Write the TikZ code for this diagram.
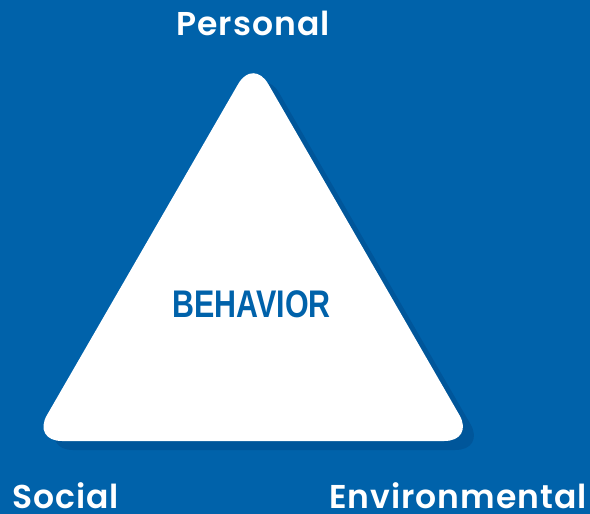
\documentclass[tikz,border=0pt]{standalone}
\usepackage{fontspec}
\setmainfont{Poppins}[BoldFont={* SemiBold}]
\newfontfamily\lblfont[LetterSpace=3,BoldFont={* SemiBold}]{Poppins}
\newfontfamily\condfont[FakeStretch=0.79]{Liberation Sans}
\definecolor{bg}{HTML}{0062AA}
\definecolor{shadowblue}{HTML}{00569A}
\begin{document}
\begin{tikzpicture}[x=1pt,y=-1pt,
  lbl/.style={text=white,font=\lblfont\fontsize{33}{36}\selectfont\bfseries,inner sep=0pt}]
\useasboundingbox (0,0) rectangle (590,514);
\fill[bg] (0,0) rectangle (590,514);
\coordinate (A) at (253.2,58);
\coordinate (L) at (32,441);
\coordinate (R) at (474.4,441);
\fill[shadowblue, rounded corners=30pt] ([shift={(11,9)}]A) -- ([shift={(11,9)}]R) -- ([shift={(11,9)}]L) -- cycle;
\fill[white, rounded corners=30pt] (A) -- (R) -- (L) -- cycle;
\node[lbl, anchor=base] (personal) at (253,35) {Personal};
\node[lbl, anchor=base west] (social) at (12,508.5) {Social};
\node[lbl, anchor=base east] (env) at (587,508.5) {Environmental};
\node[text=bg, font=\condfont\fontsize{38.5}{40}\selectfont\bfseries, inner sep=0pt] (beh) at (251.5,304) {BEHAVIOR};
\end{tikzpicture}
\end{document}
